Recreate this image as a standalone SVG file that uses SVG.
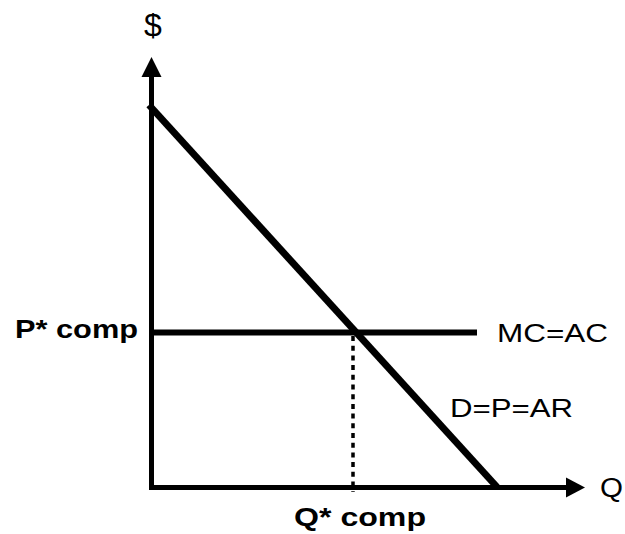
<svg xmlns="http://www.w3.org/2000/svg" width="625" height="534" viewBox="0 0 625 534">
<style>
.ax{stroke:#000;stroke-width:5;fill:none}
.t{font-family:"Liberation Sans",Arial,sans-serif;fill:#000}
.b{font-weight:bold}
</style>
<rect width="625" height="534" fill="#fff"/>
<g id="axes">
<line class="ax" x1="151.5" y1="490" x2="151.5" y2="74"/>
<polygon points="151.5,57 141.5,77 161.5,77" fill="#000"/>
<line class="ax" x1="149" y1="487.5" x2="569" y2="487.5"/>
<polygon points="585,487.5 566,477.5 566,497.5" fill="#000"/>
</g>
<g id="connectors">
<line x1="353" y1="336" x2="353" y2="492" stroke="#000" stroke-width="3.5" stroke-dasharray="5,4.7"/>
<line x1="150" y1="332.5" x2="477" y2="332.5" stroke="#000" stroke-width="6"/>
<line x1="149" y1="105" x2="497" y2="487" stroke="#000" stroke-width="7"/>
</g>
<g id="labels">
<text class="t" x="153" y="36" font-size="32" text-anchor="middle">$</text>
<text class="t" x="600" y="497" font-size="27" textLength="23" lengthAdjust="spacingAndGlyphs">Q</text>
<text class="t b" x="15" y="338" font-size="25" textLength="123" lengthAdjust="spacingAndGlyphs">P* comp</text>
<text class="t b" x="294" y="526" font-size="25" textLength="132" lengthAdjust="spacingAndGlyphs">Q* comp</text>
<text class="t" x="497" y="342" font-size="26.5" textLength="111" lengthAdjust="spacingAndGlyphs">MC=AC</text>
<text class="t" x="450" y="417" font-size="26.5" textLength="123" lengthAdjust="spacingAndGlyphs">D=P=AR</text>
</g>
</svg>
